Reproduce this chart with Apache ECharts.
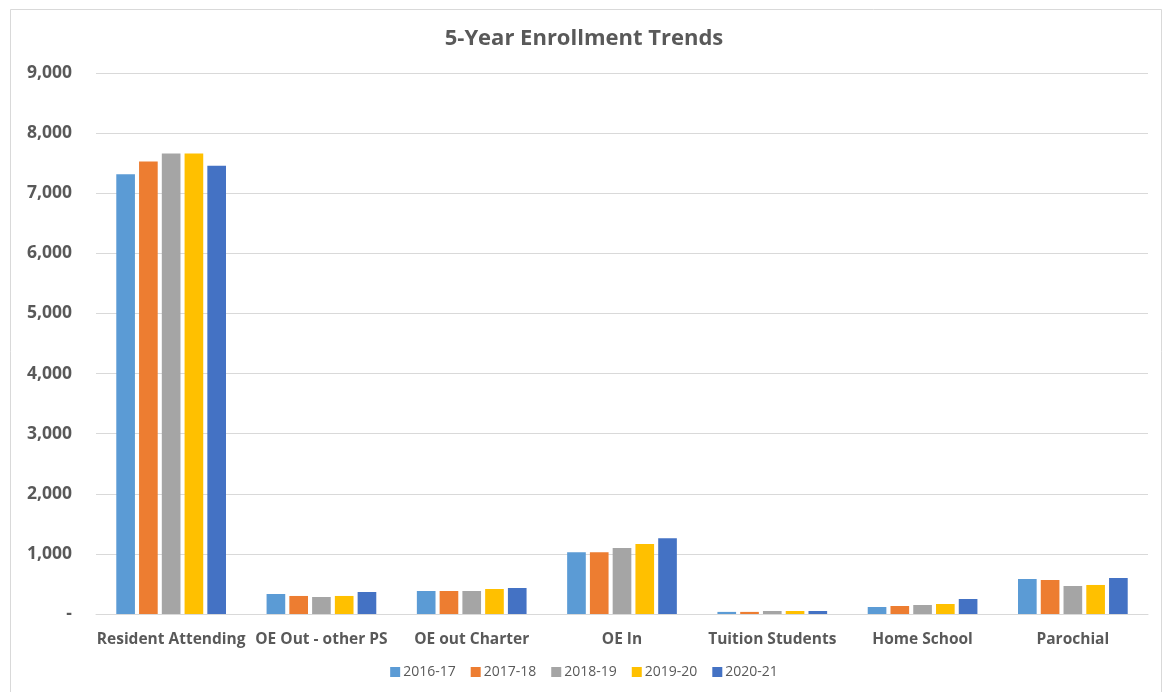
<!DOCTYPE html>
<html>
<head>
<meta charset="utf-8">
<script src="https://cdn.jsdelivr.net/npm/echarts@6/dist/echarts.min.js"></script>
<style>
  html, body { margin: 0; padding: 0; background: #ffffff; }
  #chart { width: 1168px; height: 692px; }
</style>
</head>
<body>
<div id="chart"></div>
<script>
// Enrollment counts by category, one array per school year
const categories = ['Resident Attending', 'OE Out - other PS', 'OE out Charter', 'OE In', 'Tuition Students', 'Home School', 'Parochial'];
const years = ['2016-17', '2017-18', '2018-19', '2019-20', '2020-21'];
const y2016 = [7315, 333, 383, 1027, 35, 116, 582];
const y2017 = [7526, 300, 383, 1027, 35, 133, 566];
const y2018 = [7659, 283, 383, 1098, 50, 150, 466];
const y2019 = [7659, 300, 416, 1165, 50, 166, 483];
const y2020 = [7459, 366, 433, 1259, 50, 250, 599];
const yTicks = [0, 1000, 2000, 3000, 4000, 5000, 6000, 7000, 8000, 9000];

const colors = ['#5b9bd5', '#ed7d31', '#a5a5a5', '#ffc000', '#4472c4'];
const seriesData = [y2016, y2017, y2018, y2019, y2020];
const font = '"Open Sans", "Liberation Sans", sans-serif';

const chart = echarts.init(document.getElementById('chart'), null, { renderer: 'canvas' });
chart.setOption({
  animation: false,
  backgroundColor: '#ffffff',
  color: colors,
  graphic: [{
    type: 'rect',
    shape: { x: 10.5, y: 9.5, width: 1151, height: 700 },
    style: { fill: 'none', stroke: '#d9d9d9', lineWidth: 1 },
    silent: true
  }],
  title: {
    text: '5-Year Enrollment Trends',
    left: 'center',
    top: 23,
    textStyle: { fontFamily: font, fontSize: 22, fontWeight: 'bold', color: '#595959' }
  },
  legend: {
    data: years,
    bottom: 8,
    left: 'center',
    itemWidth: 10,
    itemHeight: 10,
    itemGap: 15,
    icon: 'rect',
    textStyle: { fontFamily: font, fontSize: 14, color: '#595959', padding: [0, 0, 0, -2] }
  },
  grid: { left: 96, right: 20, top: 73, bottom: 78, containLabel: false },
  xAxis: {
    type: 'category',
    data: categories,
    axisLine: { lineStyle: { color: '#d9d9d9' } },
    axisTick: { show: false },
    axisLabel: { fontFamily: font, fontSize: 15.5, fontWeight: 'bold', color: '#595959', margin: 18, interval: 0 }
  },
  yAxis: {
    type: 'value',
    min: yTicks[0],
    max: yTicks[yTicks.length - 1],
    interval: 1000,
    axisLine: { show: false },
    axisTick: { show: false },
    splitLine: { lineStyle: { color: '#d9d9d9' } },
    axisLabel: {
      fontFamily: font, fontSize: 17.5, fontWeight: 'bold', color: '#595959', margin: 24,
      formatter: v => v === 0 ? '-' : v.toLocaleString('en-US')
    }
  },
  series: years.map((name, i) => ({
    name: name,
    type: 'bar',
    data: seriesData[i],
    barGap: '22%',
    barCategoryGap: '27%',
    itemStyle: { color: colors[i] }
  }))
});
</script>
</body>
</html>
